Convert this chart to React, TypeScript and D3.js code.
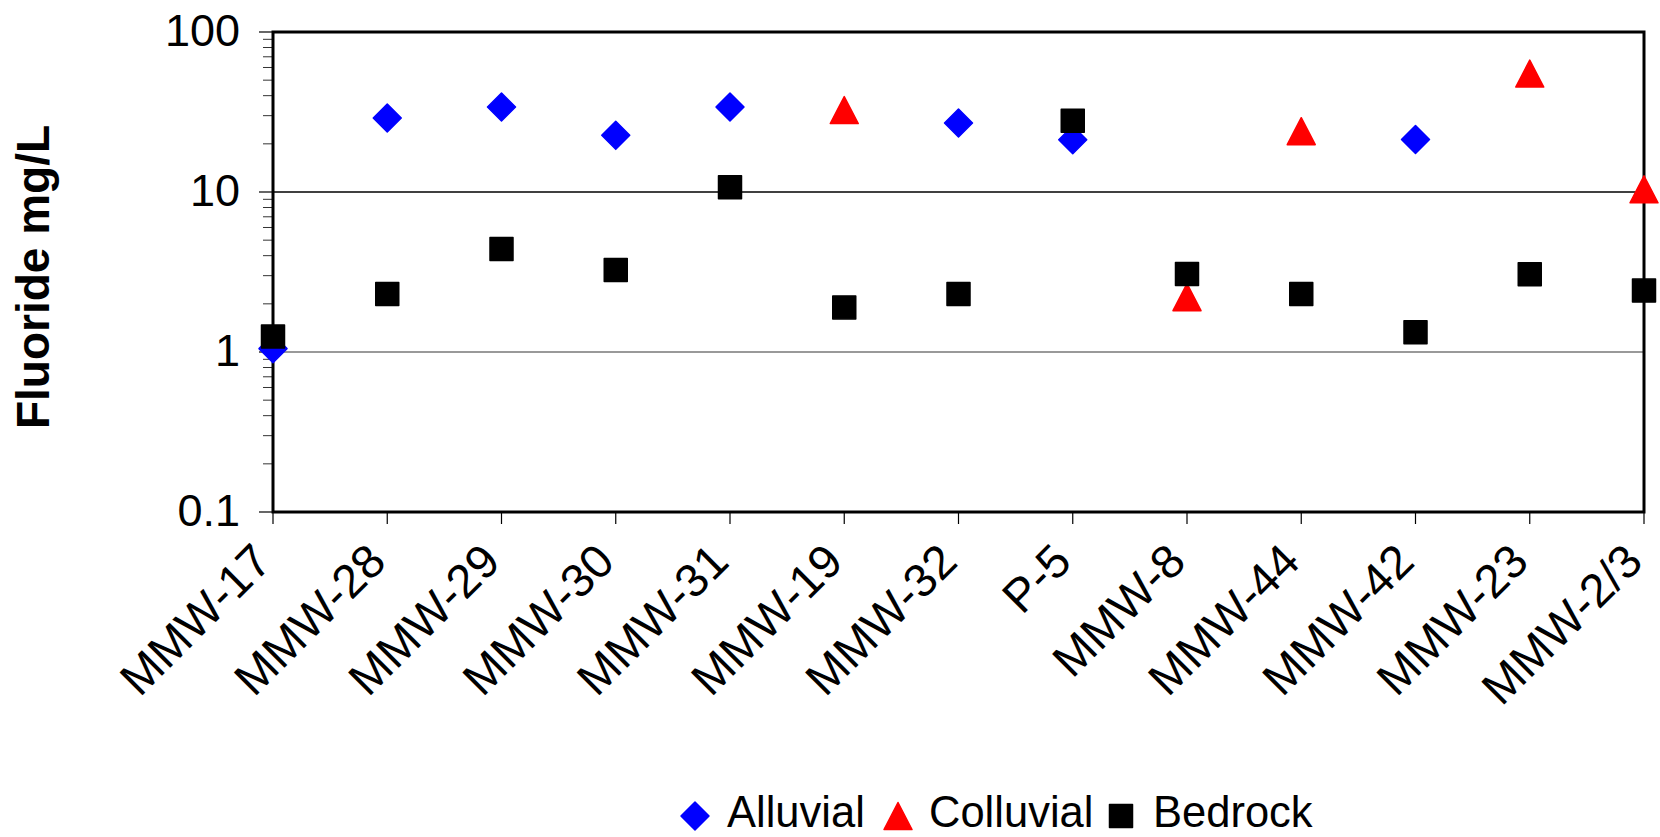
import React from "react";
import * as d3 from "d3";

const categories = ["MMW-17", "MMW-28", "MMW-29", "MMW-30", "MMW-31", "MMW-19", "MMW-32", "P-5", "MMW-8", "MMW-44", "MMW-42", "MMW-23", "MMW-2/3"];
const alluvial: (number | null)[] = [1.05, 29, 34, 22.6, 34, null, 27, 21.2, null, null, 21.3, null, null];
const colluvial: (number | null)[] = [null, null, null, null, null, 32.5, null, null, 2.2, 24, null, 55, 10.4];
const bedrock: (number | null)[] = [1.25, 2.3, 4.4, 3.25, 10.7, 1.9, 2.3, 27.9, 3.07, 2.3, 1.33, 3.06, 2.42];
const yTickValues = [0.1, 1, 10, 100];
const yTickLabels = ["0.1", "1", "10", "100"];
const gridValues = [1, 10];
const seriesNames = ["Alluvial", "Colluvial", "Bedrock"];

const W = 1660, H = 837;
const left = 273, right = 1644, top = 32, bottom = 512;
const FONT = "Arial, 'Liberation Sans', sans-serif";

function diamondPath(r: number) {
  return `M0,${-r}L${r},0L0,${r}L${-r},0Z`;
}
function trianglePath(w: number, h: number) {
  return `M0,${-h / 2}L${w / 2},${h / 2}L${-w / 2},${h / 2}Z`;
}
function squarePath(s: number) {
  return `M${-s / 2},${-s / 2}H${s / 2}V${s / 2}H${-s / 2}Z`;
}

const shapes = [
  { path: diamondPath(14), color: "#0000FF" },
  { path: trianglePath(28, 27), color: "#FF0000" },
  { path: squarePath(23), color: "#000000" },
];

export default function App() {
  const x = d3.scalePoint<string>().domain(categories).range([left, right]).padding(0);
  const y = d3.scaleLog().domain([0.1, 100]).range([bottom, top]);

  const minorTicks: number[] = [];
  for (const dec of [0.1, 1, 10]) {
    for (let k = 2; k <= 9; k++) minorTicks.push(dec * k);
  }

  const allSeries = [alluvial, colluvial, bedrock];

  const legendItems = [
    { markerX: 695, textX: 727 },
    { markerX: 898, textX: 929 },
    { markerX: 1121, textX: 1153 },
  ];

  return (
    <svg width={W} height={H} style={{ position: "absolute", left: 0, top: 0, background: "#fff" }} fontFamily={FONT}>
      <rect x={0} y={0} width={W} height={H} fill="#fff" />
      {/* gridlines */}
      {gridValues.map((v, i) => (
        <line key={"g" + i} x1={left} x2={right} y1={y(v)} y2={y(v)} stroke={v === 1 ? "#777" : "#000"} strokeWidth={1.3} />
      ))}
      {/* y minor ticks */}
      {minorTicks.map((v, i) => (
        <line key={"m" + i} x1={left - 10} x2={left} y1={y(v)} y2={y(v)} stroke="#333" strokeWidth={1} />
      ))}
      {/* y major ticks */}
      {yTickValues.map((v, i) => (
        <g key={"yt" + i}>
          <line x1={left - 14} x2={left} y1={y(v)} y2={y(v)} stroke="#000" strokeWidth={1.2} />
          <text x={240} y={y(v)} dy="0.3em" textAnchor="end" fontSize={45} fill="#000">
            {yTickLabels[i]}
          </text>
        </g>
      ))}
      {/* x ticks and labels */}
      {categories.map((c, i) => {
        const cx = x(c) as number;
        const ax = cx - 23;
        const ay = 540;
        return (
          <g key={"xt" + i}>
            <line x1={cx} x2={cx} y1={bottom} y2={bottom + 12} stroke="#000" strokeWidth={1.2} />
            <text x={ax} y={ay} dy="0.72em" textAnchor="end" fontSize={47} fill="#000" transform={`rotate(-45,${ax},${ay})`}>
              {c}
            </text>
          </g>
        );
      })}
      {/* plot border */}
      <rect x={left} y={top} width={right - left} height={bottom - top} fill="none" stroke="#000" strokeWidth={3} />
      {/* markers */}
      {allSeries.map((s, si) => (
        <g key={"s" + si}>
          {s.map((v, i) =>
            v == null ? null : (
              <path
                key={i}
                d={shapes[si].path}
                transform={`translate(${x(categories[i])},${y(v)})`}
                fill={shapes[si].color}
                stroke={shapes[si].color}
                strokeWidth={1.5}
                strokeLinejoin="round"
              />
            )
          )}
        </g>
      ))}
      {/* y title */}
      <text
        x={49}
        y={277}
        textAnchor="middle"
        fontSize={46}
        fontWeight="bold"
        fill="#000"
        transform={`rotate(-90,49,277)`}
      >
        Fluoride mg/L
      </text>
      {/* legend */}
      {legendItems.map((it, i) => (
        <g key={"l" + i}>
          <path
            d={shapes[i].path}
            transform={`translate(${it.markerX},816)`}
            fill={shapes[i].color}
            stroke={shapes[i].color}
            strokeWidth={1.5}
            strokeLinejoin="round"
          />
          <text x={it.textX} y={827} fontSize={43.5} fill="#000">
            {seriesNames[i]}
          </text>
        </g>
      ))}
    </svg>
  );
}
